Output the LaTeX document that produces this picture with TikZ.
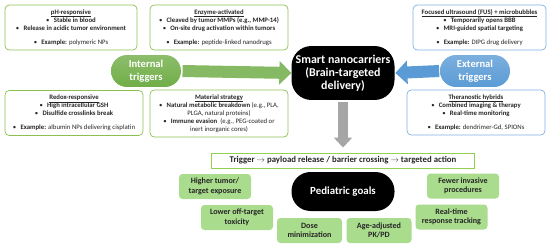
\documentclass[tikz,border=0pt]{standalone}
\usepackage{fontspec}
\setmainfont{Carlito}
\usepackage{xcolor}
\usepackage{tikz}
\usetikzlibrary{arrows.meta, positioning, calc}
\definecolor{ncGreen}{HTML}{70AD47}
\definecolor{ncGreenLine}{HTML}{8CC152}
\definecolor{ncBlue}{HTML}{5B9BD5}
\definecolor{ncBlueLine}{HTML}{7DB0E0}
\definecolor{ncLime}{HTML}{92D050}
\definecolor{ncGoal}{HTML}{A9DC8D}
\definecolor{ncGray}{HTML}{A6A6A6}
\definecolor{ncText}{HTML}{262626}
\newcommand{\ncbul}{\textbullet\hspace{6pt}}
\tikzset{
  inbox/.style={draw=ncGreenLine, line width=1pt, fill=white, rounded corners=6pt,
                align=center, inner sep=2pt, text=ncText,
                font=\fontsize{9.6}{11.3}\selectfont, minimum height=2.25cm},
  exbox/.style={inbox, draw=ncBlueLine},
  trigpill/.style={rounded corners=0.8cm, minimum width=3.5cm, minimum height=1.6cm,
                   align=center, text=white, font=\fontsize{15}{18}\selectfont\bfseries},
  hubpill/.style={fill=black, rounded corners=1cm, minimum width=5.15cm, align=center,
                  text=white, font=\fontsize{17}{18.5}\selectfont\bfseries},
  flowbox/.style={draw=ncLime, line width=1.3pt, fill=white, minimum width=13.15cm,
                  minimum height=0.75cm, inner sep=2pt, text=ncText,
                  font=\fontsize{12.5}{14}\selectfont\bfseries},
  goalbox/.style={fill=ncGoal, rounded corners=5pt, minimum width=3.6cm, minimum height=1.25cm,
                  align=center, inner sep=2pt, text=ncText, font=\fontsize{11.5}{13.5}\selectfont\bfseries},
  fatarrow/.style={line width=0.6cm, -{Triangle[width=1.15cm,length=0.6cm]}},
}

\begin{document}
\begin{tikzpicture}[x=0.05cm, y=-0.05cm]
\useasboundingbox (0,0) rectangle (550,249);
% trigger boxes
\node[inbox, minimum width=6.6cm] (ph) at (71,27.5) {\textbf{\underline{pH-responsive}}\\ \ncbul\textbf{Stable in blood}\\ \ncbul\textbf{Release in acidic tumor environment}\\[9pt] \ncbul\textbf{Example:} polymeric NPs};
\node[inbox, minimum width=6.9cm] (enz) at (219,27.5) {\textbf{\underline{Enzyme-activated}}\\ \ncbul\textbf{Cleaved by tumor MMPs (e.g., MMP-14)}\\ \ncbul\textbf{On-site drug activation within tumors}\\[9pt] \ncbul\textbf{Example:} peptide-linked nanodrugs};
\node[exbox, minimum width=6.65cm] (fus) at (479.5,27.5) {\textbf{\underline{Focused ultrasound (FUS) + microbubbles}}\\ \ncbul\textbf{Temporarily opens BBB}\\ \ncbul\textbf{MRI-guided spatial targeting}\\[9pt] \ncbul\textbf{Example:} DIPG drug delivery};
\node[inbox, minimum width=6.9cm] (redox) at (74,113) {\textbf{\underline{Redox-responsive}}\\ \ncbul\textbf{High intracellular GSH}\\ \ncbul\textbf{Disulfide crosslinks break}\\[9pt] \ncbul\textbf{Example:} albumin NPs delivering cisplatin};
\node[inbox, minimum width=6.9cm, minimum height=2.35cm] (mat) at (219,113.5) {\textbf{\underline{Material strategy}}\\ \ncbul\textbf{Natural metabolic breakdown} (e.g., PLA,\\ PLGA, natural proteins)\\ \ncbul\textbf{Immune evasion}\ \ (e.g., PEG-coated or\\ inert inorganic cores)};
\node[exbox, minimum width=6.9cm] (thera) at (476,112.5) {\textbf{\underline{Theranostic hybrids}}\\ \ncbul\textbf{Combined imaging \& therapy}\\ \ncbul\textbf{Real-time monitoring}\\[9pt] \ncbul\textbf{Example:} dendrimer-Gd, SPIONs};

% pills
\node[trigpill, top color=ncGreen!80!white, bottom color=ncGreen] (intl) at (146,71) {Internal\\triggers};
\node[trigpill, top color=ncBlue!80!white, bottom color=ncBlue] (extl) at (475,71) {External\\triggers};
\node[hubpill, minimum height=2.7cm] (hub) at (343,73) {Smart nanocarriers\\(Brain-targeted\\delivery)};
\node[flowbox] (flow) at (343,160.5) {Trigger $\rightarrow$ payload release / barrier crossing $\rightarrow$ targeted action};
\node[hubpill, minimum height=1.95cm, rounded corners=0.95cm, font=\fontsize{15.5}{18}\selectfont\bfseries] (goals) at (343,191.5) {Pediatric goals};

% goals
\node[goalbox] (expo) at (215,186.5) {Higher tumor/\\target exposure};
\node[goalbox] (tox) at (237,217.5) {Lower off-target\\toxicity};
\node[goalbox, minimum width=3.25cm] (dose) at (309.5,230.5) {Dose\\minimization};
\node[goalbox, minimum width=3.25cm] (pkpd) at (379,230.5) {Age-adjusted\\PK/PD};
\node[goalbox] (track) at (451.5,217) {Real-time\\response tracking};
\node[goalbox] (proc) at (463,186) {Fewer invasive\\procedures};

% block arrows
\draw[fatarrow, ncGreen!85!white, shorten <=2pt] (intl.east) -- (hub.west);
\draw[fatarrow, ncBlue, shorten <=1pt, shorten >=1pt] (extl.west) -- (hub.east);
\draw[line width=0.5cm, ncGray, -{Triangle[width=0.9cm,length=0.5cm]}, shorten <=3pt, shorten >=0.25cm] (hub.south) -- (flow.north);
\end{tikzpicture}
\end{document}
